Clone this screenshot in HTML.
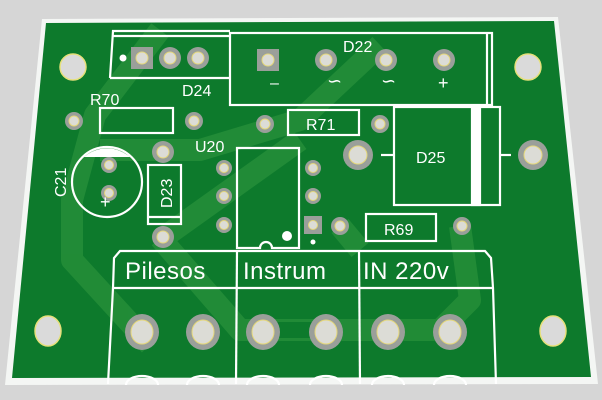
<!DOCTYPE html>
<html><head><meta charset="utf-8"><style>
html,body{margin:0;padding:0;background:#d6d6d6;}
svg{display:block}
text{font-family:"Liberation Sans",sans-serif;fill:#fff}
</style></head><body>
<svg width="602" height="400" viewBox="0 0 602 400" xmlns="http://www.w3.org/2000/svg">
<rect width="602" height="400" fill="#d6d6d6"/>
<polygon points="42,19 558,17 598,384 5,385" fill="#f4f6f4"/>
<polygon points="46,23 554,21 591,377 12,378" fill="#0d7a2c"/>
<g stroke="#27903a" stroke-width="22" fill="none" stroke-linejoin="round" opacity="0.8">
<path d="M160,30 L95,115 L72,200 L72,260 L150,345"/>
<path d="M300,140 L230,190 L160,240"/>
<path d="M380,45 L300,120 L200,150 L100,150"/>
<path d="M160,238 L240,330 L330,330 L440,330 L470,300 L460,226"/>
<path d="M340,226 L360,250"/>
</g>
<g stroke="#0d7a2c" stroke-width="16" fill="none"><path d="M270,330 L330,330"/></g>
<g fill="#dadada" stroke="#e6e07a" stroke-width="1.5">
<ellipse cx="73" cy="67" rx="13" ry="13"/><ellipse cx="528" cy="67" rx="13" ry="13"/>
<ellipse cx="48" cy="331" rx="13" ry="15"/><ellipse cx="553" cy="331" rx="13" ry="15"/>
</g>
<g fill="none" stroke="#fff" stroke-width="2.2">
<polyline points="110,78 113,31 230,31"/><line x1="113" y1="36" x2="230" y2="36"/><line x1="110" y1="78" x2="230" y2="78"/>
<rect x="230" y="33" width="262" height="72"/><line x1="487" y1="33" x2="487" y2="105"/>
<rect x="100" y="108" width="73" height="25"/>
<rect x="288" y="110" width="71" height="25"/>
<rect x="366" y="214" width="70" height="27"/>
<rect x="394" y="107" width="106" height="98"/>
<rect x="472" y="107" width="8" height="98" fill="#fff"/>
<line x1="381" y1="155" x2="394" y2="155"/><line x1="500" y1="155" x2="511" y2="155"/>
<path d="M237,248 V148 H299 V248 H272 A6,6 0 0 0 260,248 Z"/>
<circle cx="107" cy="182" r="35"/>
<rect x="148" y="165" width="33" height="59"/><line x1="148" y1="217" x2="181" y2="217"/>
<path d="M108,384 L113,288 L114,258 L120,251 L485,251 L491,258 L493,288 L496,384"/>
<line x1="113" y1="288" x2="493" y2="288"/>
<line x1="237" y1="251" x2="236" y2="384"/><line x1="359" y1="251" x2="360" y2="384"/>
</g>
<path d="M84,157 A35,35 0 0 1 130,157 Z" fill="#fff"/>
<circle cx="287" cy="236" r="5" fill="#fff"/>
<circle cx="313" cy="242" r="2.5" fill="#fff"/>
<circle cx="123" cy="58" r="3.5" fill="#fff"/>
<g fill="none" stroke="#fff" stroke-width="2.2">
<ellipse cx="142" cy="385" rx="16" ry="9"/><ellipse cx="203" cy="385" rx="16" ry="9"/>
<ellipse cx="263" cy="385" rx="16" ry="9"/><ellipse cx="326" cy="385" rx="16" ry="9"/>
<ellipse cx="388" cy="385" rx="16" ry="9"/><ellipse cx="450" cy="385" rx="16" ry="9"/>
</g>
<rect x="0" y="385" width="602" height="15" fill="#d6d6d6"/>
<g fill="#9a9f9a">
<rect x="131" y="47" width="22" height="22"/><rect x="257" y="49" width="22" height="22"/>
<rect x="304" y="216" width="18" height="18"/>
<circle cx="170" cy="58" r="11"/><circle cx="198" cy="58" r="11"/>
<circle cx="326" cy="60" r="11"/><circle cx="386" cy="60" r="11"/><circle cx="444" cy="60" r="11"/>
<circle cx="74" cy="121" r="9"/><circle cx="194" cy="121" r="9"/>
<circle cx="265" cy="124" r="9"/><circle cx="380" cy="124" r="9"/>
<circle cx="358" cy="155" r="15"/><circle cx="533" cy="155" r="15"/>
<circle cx="163" cy="152" r="11"/><circle cx="163" cy="237" r="11"/>
<circle cx="109" cy="165" r="8"/><circle cx="109" cy="193" r="8"/>
<circle cx="224" cy="168" r="8"/><circle cx="224" cy="196" r="8"/><circle cx="224" cy="225" r="8"/>
<circle cx="313" cy="168" r="8"/><circle cx="313" cy="196" r="8"/>
<circle cx="340" cy="226" r="9"/><circle cx="462" cy="226" r="9"/>
<ellipse cx="142" cy="332" rx="17" ry="18"/><ellipse cx="203" cy="332" rx="17" ry="18"/>
<ellipse cx="263" cy="332" rx="17" ry="18"/><ellipse cx="326" cy="332" rx="17" ry="18"/>
<ellipse cx="388" cy="332" rx="17" ry="18"/><ellipse cx="450" cy="332" rx="17" ry="18"/>
</g>
<g fill="#dcdcd6" stroke="#e4d77a" stroke-width="1">
<circle cx="142" cy="58" r="6"/><circle cx="170" cy="58" r="6"/><circle cx="198" cy="58" r="6"/>
<circle cx="268" cy="60" r="6"/><circle cx="326" cy="60" r="6"/><circle cx="386" cy="60" r="6"/><circle cx="444" cy="60" r="6"/>
<circle cx="74" cy="121" r="5"/><circle cx="194" cy="121" r="5"/><circle cx="265" cy="124" r="5"/><circle cx="380" cy="124" r="5"/>
<circle cx="358" cy="155" r="9"/><circle cx="533" cy="155" r="9"/>
<circle cx="163" cy="152" r="6"/><circle cx="163" cy="237" r="6"/>
<circle cx="109" cy="165" r="4.5"/><circle cx="109" cy="193" r="4.5"/>
<circle cx="224" cy="168" r="4.5"/><circle cx="224" cy="196" r="4.5"/><circle cx="224" cy="225" r="4.5"/>
<circle cx="313" cy="168" r="4.5"/><circle cx="313" cy="196" r="4.5"/><circle cx="313" cy="225" r="4.5"/>
<circle cx="340" cy="226" r="5"/><circle cx="462" cy="226" r="5"/>
<ellipse cx="142" cy="332" rx="11" ry="12"/><ellipse cx="203" cy="332" rx="11" ry="12"/>
<ellipse cx="263" cy="332" rx="11" ry="12"/><ellipse cx="326" cy="332" rx="11" ry="12"/>
<ellipse cx="388" cy="332" rx="11" ry="12"/><ellipse cx="450" cy="332" rx="11" ry="12"/>
</g>
<g font-size="16">
<text x="90" y="105">R70</text>
<text x="182" y="96">D24</text>
<text x="343" y="52">D22</text>
<text x="306" y="130">R71</text>
<text x="416" y="163">D25</text>
<text x="195" y="152">U20</text>
<text x="384" y="235">R69</text>
<text transform="translate(66,197) rotate(-90)">C21</text>
<text transform="translate(172,208) rotate(-90)">D23</text>
<text x="270" y="88">–</text>
<text x="327" y="87" font-size="18">∽</text>
<text x="381" y="87" font-size="18">∽</text>
<text x="438" y="89" font-size="18">+</text>
<text x="100" y="208" font-size="18">+</text>
</g>
<g font-size="24" letter-spacing="0.5">
<text x="125" y="279">Pilesos</text>
<text x="243" y="279">Instrum</text>
<text x="363" y="279">IN 220v</text>
</g>
</svg>
</body></html>
